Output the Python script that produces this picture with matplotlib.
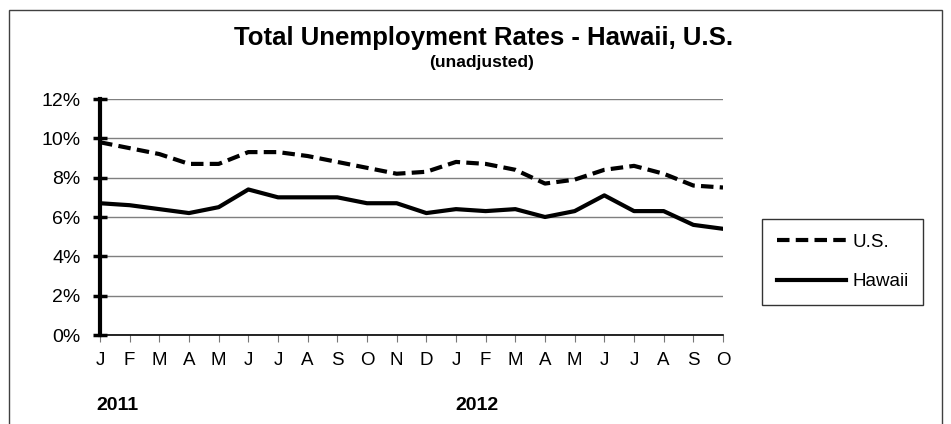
import matplotlib
matplotlib.use("Agg")
import matplotlib.pyplot as plt
from matplotlib.patches import Rectangle

plt.rcParams["font.family"] = ["Liberation Sans", "DejaVu Sans"]

months = ["J", "F", "M", "A", "M", "J", "J", "A", "S", "O", "N", "D",
          "J", "F", "M", "A", "M", "J", "J", "A", "S", "O"]
us = [9.8, 9.5, 9.2, 8.7, 8.7, 9.3, 9.3, 9.1, 8.8, 8.5, 8.2,
      8.3, 8.8, 8.7, 8.4, 7.7, 7.9, 8.4, 8.6, 8.2, 7.6, 7.5]
hawaii = [6.7, 6.6, 6.4, 6.2, 6.5, 7.4, 7.0, 7.0, 7.0, 6.7, 6.7,
          6.2, 6.4, 6.3, 6.4, 6.0, 6.3, 7.1, 6.3, 6.3, 5.6, 5.4]
yticks = [0, 2, 4, 6, 8, 10, 12]

W, H = 951, 424
fig = plt.figure(figsize=(W / 100, H / 100), dpi=100)
ax = fig.add_axes([100 / W, 1 - 335 / H, 623 / W, 236 / H])

x = list(range(len(months)))
ax.plot(x, us, color="black", lw=3, ls=(0, (3, 1.5)), label="U.S.")
ax.plot(x, hawaii, color="black", lw=3, label="Hawaii")

ax.set_xlim(0, len(months) - 1)
ax.set_ylim(0, 12)
ax.set_yticks(yticks)
ax.set_yticklabels([f"{v}%" for v in yticks], fontsize=14)
ax.set_xticks(x)
ax.set_xticklabels(months, fontsize=13.5)
ax.yaxis.grid(True, color="#7f7f7f", lw=1)
ax.set_axisbelow(True)

for s in ("top", "right"):
    ax.spines[s].set_visible(False)
ax.spines["left"].set_linewidth(3)
ax.spines["bottom"].set_linewidth(1.2)
ax.tick_params(axis="y", direction="inout", length=10, width=2.5, pad=9)
ax.tick_params(axis="x", direction="out", length=5, width=0.8, color="#777777", pad=7)

leg = ax.legend(loc="center left", bbox_to_anchor=(762 / W, 1 - 262 / H),
                bbox_transform=fig.transFigure, borderaxespad=0,
                fontsize=13.5, frameon=True, fancybox=False, edgecolor="black",
                handlelength=3.7, labelspacing=1.2, borderpad=0.8,
                handletextpad=0.3)
leg.get_frame().set_linewidth(1)

fig.text(484 / W, 1 - 45 / H, "Total Unemployment Rates - Hawaii, U.S.",
         ha="center", va="baseline", fontsize=18.5, fontweight="bold")
fig.text(482 / W, 1 - 62 / H, "(unadjusted)", ha="center", va="center",
         fontsize=12.5, fontweight="bold")
fig.text(96 / W, 1 - 406 / H, "2011", ha="left", va="center",
         fontsize=14, fontweight="bold")
fig.text(455 / W, 1 - 405 / H, "2012", ha="left", va="center",
         fontsize=14, fontweight="bold")

fig.patches.append(Rectangle((9 / W, -0.05), 933 / W, 1.05 - 10 / H,
                             transform=fig.transFigure, fill=False,
                             edgecolor="#404040", lw=1))

fig.savefig("out.png", dpi=100)
